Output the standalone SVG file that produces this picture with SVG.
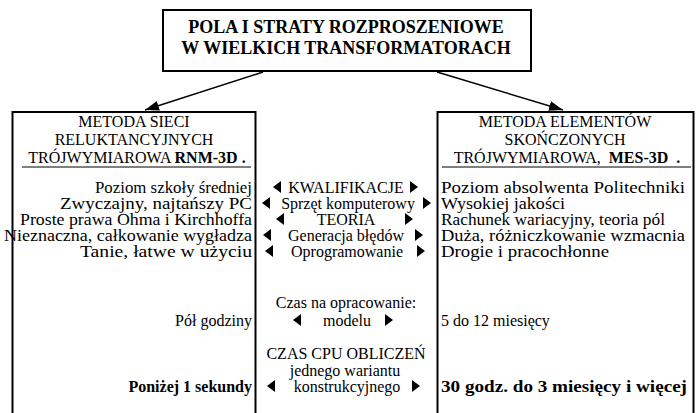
<svg xmlns="http://www.w3.org/2000/svg" xmlns:xlink="http://www.w3.org/1999/xlink" width="700" height="413" viewBox="0 0 700 413">
<style>
text{font-family:"Liberation Serif","Times New Roman",serif;font-size:16px;fill:#000}
.t{font-size:18px;font-weight:bold;text-anchor:middle}
.c{text-anchor:middle}
.l{text-anchor:end}
.r{text-anchor:start}
.b{font-weight:bold}
.box{fill:none;stroke:#000;stroke-width:2}
.ul{stroke:#000;stroke-width:1.2}
.con{stroke:#000;stroke-width:1.4;fill:none;marker-end:url(#ah)}
</style>
<defs>
<marker id="ah" markerUnits="userSpaceOnUse" markerWidth="15" markerHeight="11" refX="14" refY="5" orient="auto">
<path d="M0,0 L14,5 L0,10 Z" fill="#000"/>
</marker>
<path id="tl" d="M0,0 L8,-6 L8,6 Z" fill="#000"/>
<path id="tr" d="M0,-6 L8,0 L0,6 Z" fill="#000"/>
</defs>
<rect width="700" height="413" fill="#fff"/>

<g id="title">
<rect class="box" x="163" y="10" width="368" height="61"/>
<text class="t" x="346" y="33">POLA I STRATY ROZPROSZENIOWE</text>
<text class="t" x="346" y="54">W WIELKICH TRANSFORMATORACH</text>
</g>

<g id="connectors">
<line class="con" x1="263" y1="72" x2="145" y2="110"/>
<line class="con" x1="437" y1="72" x2="563" y2="110"/>
</g>

<g id="rnm">
<path class="box" d="M12.5,420 V112 H255.5 V420"/>
<text class="c" x="134" y="127">METODA SIECI</text>
<text class="c" x="134" y="145">RELUKTANCYJNYCH</text>
<text class="c" x="137" y="163">TRÓJWYMIAROWA <tspan class="b">RNM-3D .</tspan></text>
<line class="ul" x1="22" y1="167" x2="251" y2="167"/>
<text class="l" x="252" y="192.5" textLength="157" lengthAdjust="spacingAndGlyphs">Poziom szkoły średniej</text>
<text class="l" x="252" y="208.5" textLength="192" lengthAdjust="spacingAndGlyphs">Zwyczajny, najtańszy PC</text>
<text class="l" x="252" y="224.5" textLength="232" lengthAdjust="spacingAndGlyphs">Proste prawa Ohma i Kirchhoffa</text>
<text class="l" x="252" y="240.5" textLength="248" lengthAdjust="spacingAndGlyphs">Nieznaczna, całkowanie wygładza</text>
<text class="l" x="252" y="256.5" textLength="172" lengthAdjust="spacingAndGlyphs">Tanie, łatwe w użyciu</text>
<text class="l" x="252" y="325.5">Pół godziny</text>
<text class="l b" x="252" y="391.5">Poniżej 1 sekundy</text>
</g>

<g id="mes">
<path class="box" d="M437.5,420 V112 H693.5 V420"/>
<text class="c" x="565" y="127">METODA ELEMENTÓW</text>
<text class="c" x="565" y="145">SKOŃCZONYCH</text>
<text class="c" x="567" y="163" xml:space="preserve">TRÓJWYMIAROWA,  <tspan class="b">MES-3D  .</tspan></text>
<line class="ul" x1="442" y1="167" x2="691" y2="167"/>
<text class="r" x="441" y="192.5" textLength="244" lengthAdjust="spacingAndGlyphs">Poziom absolwenta Politechniki</text>
<text class="r" x="441" y="208.5" textLength="124" lengthAdjust="spacingAndGlyphs">Wysokiej jakości</text>
<text class="r" x="441" y="224.5" textLength="224" lengthAdjust="spacingAndGlyphs">Rachunek wariacyjny, teoria pól</text>
<text class="r" x="441" y="240.5" textLength="244" lengthAdjust="spacingAndGlyphs">Duża, różniczkowanie wzmacnia</text>
<text class="r" x="441" y="256.5" textLength="168" lengthAdjust="spacingAndGlyphs">Drogie i pracochłonne</text>
<text class="r" x="441" y="325.5">5 do 12 miesięcy</text>
<text class="r b" x="441" y="391.5" textLength="246" lengthAdjust="spacingAndGlyphs">30 godz. do 3 miesięcy i więcej</text>
</g>

<g id="criteria">
<text class="c" x="346" y="192.5">KWALIFIKACJE</text>
<text class="c" x="348" y="208.5">Sprzęt komputerowy</text>
<text class="c" x="346" y="224.5">TEORIA</text>
<text class="c" x="346" y="240.5">Generacja błędów</text>
<text class="c" x="347" y="256.5">Oprogramowanie</text>
<text class="c" x="346" y="307.5">Czas na opracowanie:</text>
<text class="c" x="347" y="325.5">modelu</text>
<text class="c" x="346" y="358.5">CZAS CPU OBLICZEŃ</text>
<text class="c" x="345" y="375.5">jednego wariantu</text>
<text class="c" x="347" y="391.5">konstrukcyjnego</text>
<use xlink:href="#tl" x="273" y="187"/><use xlink:href="#tr" x="410" y="187"/>
<use xlink:href="#tl" x="262" y="203"/><use xlink:href="#tr" x="423" y="203"/>
<use xlink:href="#tl" x="276" y="219"/><use xlink:href="#tr" x="405" y="219"/>
<use xlink:href="#tl" x="263" y="235"/><use xlink:href="#tr" x="415" y="235"/>
<use xlink:href="#tl" x="265" y="251"/><use xlink:href="#tr" x="417" y="251"/>
<use xlink:href="#tl" x="293" y="320"/><use xlink:href="#tr" x="385" y="320"/>
<use xlink:href="#tl" x="267" y="386"/><use xlink:href="#tr" x="412" y="386"/>
</g>
</svg>
